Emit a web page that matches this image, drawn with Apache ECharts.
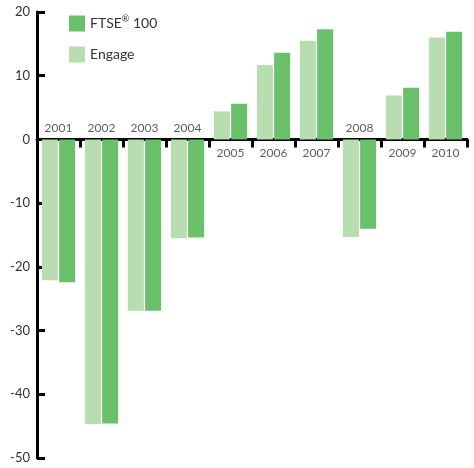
<!DOCTYPE html>
<html>
<head>
<meta charset="utf-8">
<script src="https://cdn.jsdelivr.net/npm/echarts@6/dist/echarts.min.js"></script>
<style>
  html, body { margin: 0; padding: 0; background: #fff; }
  #main { width: 474px; height: 468px; }
</style>
</head>
<body>
<div id="main"></div>
<script>
const years = ['2001', '2002', '2003', '2004', '2005', '2006', '2007', '2008', '2009', '2010'];
const engage = [-22.1, -44.7, -26.9, -15.5, 4.4, 11.7, 15.5, -15.3, 6.9, 16.0];
const ftse = [-22.4, -44.6, -26.9, -15.4, 5.6, 13.6, 17.3, -14.0, 8.1, 16.9];
const yTicks = [-50, -40, -30, -20, -10, 0, 10, 20];

const chartDom = document.getElementById('main');
const myChart = echarts.init(chartDom);
const font = 'Lato, "DejaVu Sans", sans-serif';

// year labels sit on the opposite side of the zero line from the bars
const yearLabels = years.map((y, i) => ({
    value: 0,
    label: { position: engage[i] < 0 ? 'top' : 'bottom', distance: engage[i] < 0 ? 5 : 7 }
}));

const option = {
    animation: false,
    textStyle: { fontFamily: font },
    legend: {
        data: ['FTSE 100', 'Engage'],
        orient: 'vertical',
        left: 64,
        top: 10,
        itemWidth: 16,
        itemHeight: 16,
        itemGap: 15,
        icon: 'rect',
        textStyle: {
            fontSize: 14,
            color: '#333',
            fontFamily: font,
            rich: {
                sup: { fontSize: 9, verticalAlign: 'top', padding: [0, 0, 8, 0], color: '#333', fontFamily: font }
            }
        },
        formatter: name => (name === 'FTSE 100' ? 'FTSE{sup|®} 100' : name)
    },
    grid: { left: 37, right: 7, top: 12, bottom: 10, containLabel: false },
    xAxis: {
        type: 'category',
        data: years,
        axisLine: { onZero: true, lineStyle: { color: '#000', width: 3 } },
        axisTick: { show: true, interval: 0, length: 8, lineStyle: { color: '#000', width: 3 } },
        axisLabel: { show: false },
        splitLine: { show: false }
    },
    yAxis: {
        type: 'value',
        min: yTicks[0],
        max: yTicks[yTicks.length - 1],
        interval: 10,
        axisLine: { show: true, lineStyle: { color: '#000', width: 3 } },
        axisTick: { show: true, inside: true, length: 8, lineStyle: { color: '#000', width: 3 } },
        axisLabel: { color: '#333', fontSize: 13, margin: 7, fontFamily: font },
        splitLine: { show: false }
    },
    series: [
        {
            name: 'Engage',
            type: 'bar',
            data: engage,
            barWidth: 16,
            barGap: '8%',
            itemStyle: { color: '#b7ddb0' }
        },
        {
            name: 'FTSE 100',
            type: 'bar',
            data: ftse,
            barWidth: 16,
            itemStyle: { color: '#6bc16b' }
        },
        {
            name: 'years',
            type: 'scatter',
            data: yearLabels,
            symbolSize: 1,
            itemStyle: { color: 'rgba(0,0,0,0)' },
            label: {
                show: true,
                formatter: '{b}',
                color: '#333',
                fontSize: 12,
                fontFamily: font
            },
            z: 5
        }
    ]
};

option && myChart.setOption(option);
</script>
</body>
</html>
